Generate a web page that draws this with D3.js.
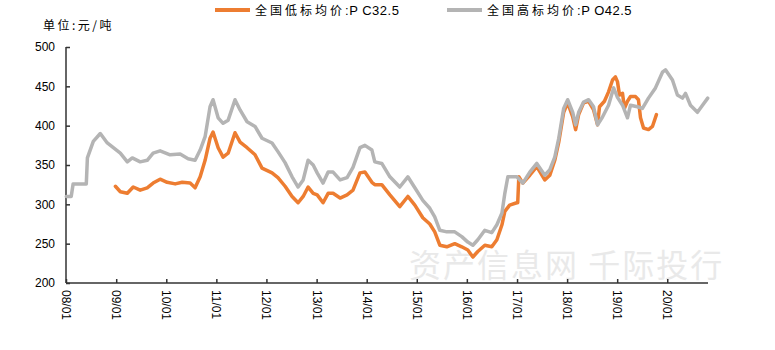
<!DOCTYPE html>
<html>
<head>
<meta charset="utf-8">
<script src="https://cdn.jsdelivr.net/npm/d3@7"></script>
<style>
  html, body { margin: 0; padding: 0; background: #fff; }
  svg { display: block; }
  text { font-family: "Liberation Sans", Arial, sans-serif; }
  .cjk { font-family: "Noto Sans CJK SC", "Noto Sans", sans-serif; }
</style>
</head>
<body>
<svg id="chart" width="775" height="350"></svg>
<script>
// National cement average price (yuan/ton)
// Low-grade P.C32.5
const lowDates = [
  "2008-12-26","2009-01-31","2009-03-23","2009-05-05","2009-06-25","2009-08-15","2009-09-27","2009-11-17",
  "2010-01-07","2010-03-07","2010-04-27","2010-06-24","2010-07-30","2010-09-05","2010-10-11","2010-11-16","2010-12-08",
  "2011-01-14","2011-02-19","2011-03-28","2011-05-17","2011-06-23","2011-08-13","2011-10-10","2011-11-30",
  "2012-02-11","2012-03-25","2012-05-16","2012-07-06","2012-08-19","2012-09-25","2012-10-31","2012-12-07",
  "2013-01-05","2013-02-17","2013-03-26","2013-05-01","2013-06-21","2013-08-11","2013-09-23","2013-11-13","2013-12-19",
  "2014-02-08","2014-03-01","2014-04-21","2014-06-19","2014-08-30","2014-10-28","2014-12-18",
  "2015-02-14","2015-04-06","2015-05-12","2015-06-18","2015-08-08","2015-10-05","2015-11-25",
  "2016-01-08","2016-02-14","2016-03-21","2016-05-11","2016-07-01","2016-08-07","2016-09-13","2016-10-04","2016-11-08","2016-12-30",
  "2017-01-06","2017-01-14","2017-02-12","2017-04-04","2017-05-25","2017-07-22","2017-08-28","2017-10-03","2017-11-01","2017-12-07",
  "2018-01-05","2018-02-11","2018-03-04","2018-03-26","2018-05-01","2018-06-07","2018-07-13","2018-08-11","2018-08-25","2018-09-30","2018-10-30","2018-11-28","2018-12-19",
  "2019-01-03","2019-01-18","2019-02-09","2019-02-23","2019-03-17","2019-04-08","2019-05-15","2019-06-05","2019-06-20","2019-07-12","2019-08-17","2019-09-15","2019-10-14"
];
const lowValues = [
  323,316,314,322,318,321,327,332,
  328,326,328,327,321,335,356,384,392,
  372,360,365,391,379,372,363,346,
  340,334,323,310,302,310,322,314,
  312,302,314,314,308,312,318,340,341,
  328,325,325,312,297,310,299,
  283,275,265,248,246,250,246,
  242,233,240,248,246,255,274,291,299,302,
  302,335,327,337,348,331,337,356,379,417,
  429,411,395,414,429,431,420,401,424,431,443,458,462,
  456,439,441,422,431,437,437,433,410,397,395,399,414
];

// High-grade P.O42.5
const highDates = [
  "2008-01-03","2008-02-08","2008-02-22","2008-05-28","2008-06-05","2008-07-18","2008-09-07","2008-10-28","2008-12-11",
  "2009-01-31","2009-03-23","2009-04-28","2009-06-25","2009-08-15","2009-09-27","2009-11-17",
  "2010-01-29","2010-04-12","2010-06-09","2010-07-30","2010-09-05","2010-10-11","2010-11-16","2010-12-08",
  "2011-01-14","2011-02-19","2011-03-28","2011-05-17","2011-06-23","2011-08-13","2011-10-10","2011-11-30",
  "2012-02-11","2012-03-25","2012-05-16","2012-07-06","2012-08-19","2012-09-25","2012-10-31","2012-12-07",
  "2013-01-05","2013-02-17","2013-03-26","2013-05-01","2013-06-21","2013-08-11","2013-09-23","2013-11-13","2013-12-19",
  "2014-02-08","2014-03-01","2014-04-21","2014-06-19","2014-08-30","2014-10-28","2014-12-18",
  "2015-02-14","2015-04-06","2015-05-12","2015-06-18","2015-08-08","2015-10-05","2015-11-25",
  "2016-01-08","2016-02-14","2016-03-21","2016-05-11","2016-07-01","2016-08-07","2016-09-13","2016-10-04","2016-10-26","2016-12-30",
  "2017-02-12","2017-04-04","2017-05-25","2017-07-22","2017-08-28","2017-10-03","2017-11-01","2017-12-07",
  "2018-01-05","2018-02-11","2018-03-04","2018-03-26","2018-05-01","2018-06-07","2018-07-13","2018-08-11","2018-09-16","2018-10-30","2018-12-06",
  "2019-01-03","2019-02-09","2019-03-17","2019-04-08","2019-05-29","2019-07-04","2019-08-17","2019-10-07","2019-11-27","2019-12-19",
  "2020-02-08","2020-03-15","2020-04-21","2020-05-13","2020-06-18","2020-08-08","2020-09-14","2020-10-22"
];
const highValues = [
  310,310,326,326,359,380,390,378,372,
  365,354,359,354,356,365,368,
  363,364,358,356,369,386,424,433,
  410,403,407,433,420,405,399,384,
  378,367,353,335,322,331,356,350,
  340,327,341,341,331,334,347,372,375,
  369,354,352,335,322,335,321,
  305,295,284,267,265,265,259,
  252,248,255,267,264,274,289,314,335,335,
  327,341,352,337,344,360,384,422,
  433,417,401,417,430,433,424,401,411,426,448,
  436,426,410,426,424,422,435,448,468,471,
  458,439,435,441,426,417,426,435
];

const yTicks = [200, 250, 300, 350, 400, 450, 500];
const xTickYears = d3.range(2008, 2021);
const seriesNames = ["全国低标均价:P C32.5", "全国高标均价:P O42.5"];
const seriesColors = ["#ED7D31", "#B4B4B4"];
const unitLabel = "单位:元/吨";
const watermark = "资产信息网 千际投行";

const parse = d3.timeParse("%Y-%m-%d");
const low = lowDates.map((d, i) => ({ date: parse(d), value: lowValues[i] }));
const high = highDates.map((d, i) => ({ date: parse(d), value: highValues[i] }));

const svg = d3.select("#chart");
const plotLeft = 66, plotRight = 708, plotTop = 47, plotBottom = 283;

const x = d3.scaleTime()
  .domain([new Date(2008, 0, 1), new Date(2020, 9, 24)])
  .range([plotLeft, plotRight]);
const y = d3.scaleLinear().domain([200, 500]).range([plotBottom, plotTop]);

// faint watermark behind the plot
svg.append("text")
  .attr("class", "cjk")
  .attr("x", 409).attr("y", 277)
  .attr("font-size", 32)
  .attr("letter-spacing", 2)
  .attr("fill", "#e9e9e9")
  .text(watermark);

// axes
const yAxis = svg.append("g")
  .attr("transform", `translate(${plotLeft},0)`)
  .call(d3.axisRight(y).tickValues(yTicks).tickSize(4).tickFormat(""));
yAxis.select(".domain").attr("d", `M0,${plotBottom}V${plotTop}`);
yAxis.selectAll("path, line").attr("stroke", "#333").attr("stroke-width", 1.5);

svg.append("g").selectAll("text")
  .data(yTicks).join("text")
  .attr("x", 55).attr("y", d => y(d))
  .attr("dy", "0.35em")
  .attr("text-anchor", "end")
  .attr("font-size", 12)
  .attr("fill", "#000")
  .text(d => d);

const xAxis = svg.append("g")
  .attr("transform", `translate(0,${plotBottom})`)
  .call(d3.axisTop(x)
    .tickValues(xTickYears.map(yr => new Date(yr, 0, 1)))
    .tickSize(4)
    .tickFormat(""));
xAxis.select(".domain").attr("d", `M${plotLeft},0H${plotRight}`);
xAxis.selectAll("path, line").attr("stroke", "#333").attr("stroke-width", 1.5);

svg.append("g").selectAll("text")
  .data(xTickYears).join("text")
  .attr("transform", yr => `translate(${x(new Date(yr, 0, 1)) - 4},${plotBottom + 7}) rotate(90)`)
  .attr("font-size", 12)
  .attr("fill", "#000")
  .text(yr => d3.timeFormat("%y/%m")(new Date(yr, 0, 1)));

// series lines
const line = d3.line().x(d => x(d.date)).y(d => y(d.value));
[low, high].forEach((data, i) => {
  svg.append("path")
    .datum(data)
    .attr("fill", "none")
    .attr("stroke", seriesColors[i])
    .attr("stroke-width", 3.5)
    .attr("stroke-linejoin", "round")
    .attr("stroke-linecap", "round")
    .attr("d", line);
});

// unit label
svg.append("text")
  .attr("class", "cjk")
  .attr("x", 43).attr("y", 30)
  .attr("font-size", 12)
  .attr("letter-spacing", 2.5)
  .attr("fill", "#000")
  .text(unitLabel);

// legend
const legendX = [215, 447];
seriesNames.forEach((name, i) => {
  const g = svg.append("g").attr("transform", `translate(${legendX[i]},10)`);
  g.append("line")
    .attr("x1", 0).attr("x2", 35)
    .attr("stroke", seriesColors[i])
    .attr("stroke-width", 4);
  const cut = name.indexOf(":");
  const t = g.append("text").attr("x", 40).attr("y", 5).attr("fill", "#000");
  t.append("tspan").attr("class", "cjk").attr("font-size", 12)
    .attr("letter-spacing", 3).text(name.slice(0, cut));
  t.append("tspan").attr("font-size", 13).attr("letter-spacing", 0.5).text(name.slice(cut));
});
</script>
</body>
</html>
